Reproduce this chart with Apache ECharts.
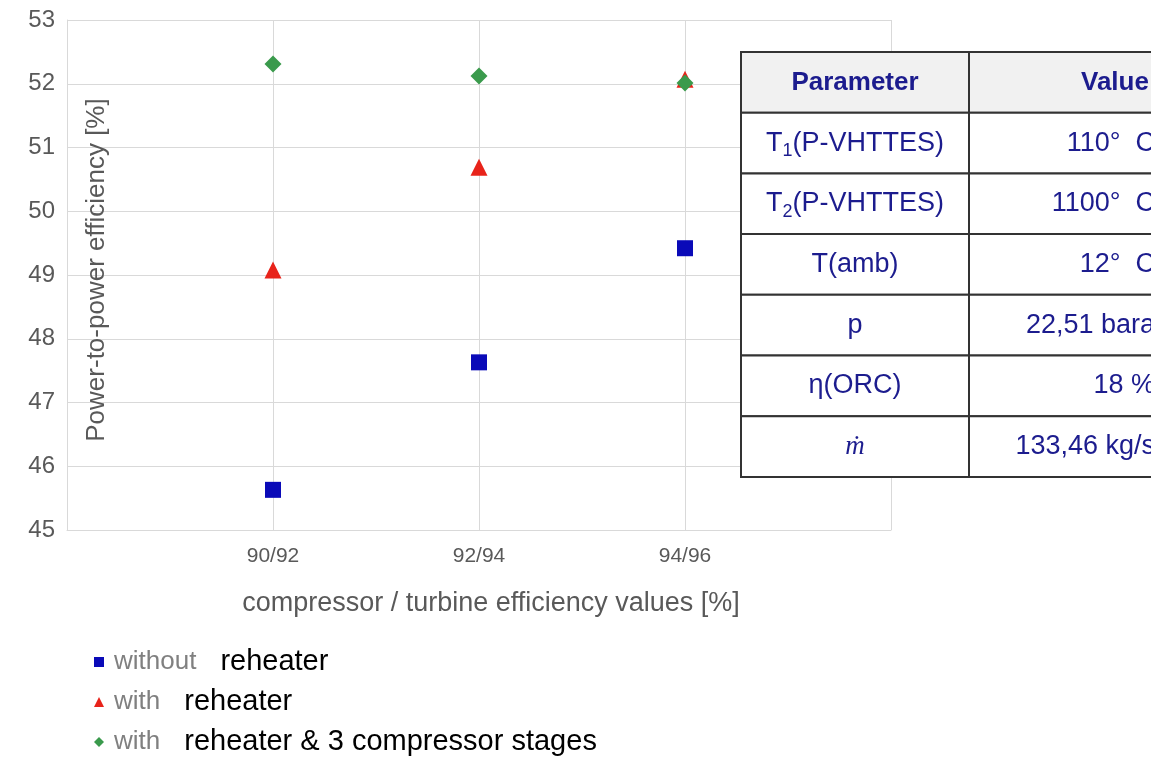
<!DOCTYPE html>
<html>
<head>
<meta charset="utf-8">
<script src="https://cdn.jsdelivr.net/npm/echarts@6/dist/echarts.min.js"></script>
<style>
  html, body { margin: 0; padding: 0; background: #fff; }
  #chart { width: 1151px; height: 762px; }
</style>
</head>
<body>
<div id="chart"></div>
<script>
// categories on the x axis
const categories = ["90/92", "92/94", "94/96"];

// power-to-power efficiency [%]
const withoutReheater = [45.63, 47.63, 49.42];
const withReheater = [49.08, 50.69, 52.07];
const withReheater3Stages = [52.31, 52.12, 52.01];

// parameter table
const tableParams = ["T{sub|1}(P-VHTTES)", "T{sub|2}(P-VHTTES)", "T(amb)", "p", "η(ORC)", "ṁ"];
const tableValues = ["110°  C", "1100°  C", "12°  C", "22,51 bara", "18 %", "133,46 kg/s"];

const font = "Liberation Sans";
const navy = "#1c1c8e";
const gray = "#595959";

function toPoints(arr) {
  return arr.map((v, i) => [i + 1, v]);
}

// build the table from graphic elements
function buildTable() {
  const left = 741;
  const top = 52;
  const rowH = 60.7;
  const col1 = 228;
  const col2 = 260;
  const els = [];
  const nRows = tableParams.length + 1;
  for (let r = 0; r < nRows; r++) {
    const y = top + r * rowH;
    els.push({
      type: "rect",
      z: 100,
      shape: { x: left, y: y, width: col1, height: rowH },
      style: { fill: r === 0 ? "#f1f1f1" : "#fff", stroke: "#333", lineWidth: 2 },
    });
    els.push({
      type: "rect",
      z: 100,
      shape: { x: left + col1, y: y, width: col2, height: rowH },
      style: { fill: r === 0 ? "#f1f1f1" : "#fff", stroke: "#333", lineWidth: 2 },
    });
    if (r === 0) {
      els.push({
        type: "text",
        z: 101,
        style: {
          text: "Parameter", x: left + col1 / 2, y: y + rowH / 2,
          align: "center", verticalAlign: "middle",
          fontSize: 26, fontWeight: "bold", fontFamily: font, fill: navy,
        },
      });
      els.push({
        type: "text",
        z: 101,
        style: {
          text: "Value", x: left + col1 + 112, y: y + rowH / 2,
          align: "left", verticalAlign: "middle",
          fontSize: 26, fontWeight: "bold", fontFamily: font, fill: navy,
        },
      });
      continue;
    }
    const p = tableParams[r - 1];
    const isMdot = p === "ṁ";
    els.push({
      type: "text",
      z: 101,
      style: {
        text: p, x: left + col1 / 2, y: y + rowH / 2,
        align: "center", verticalAlign: "middle",
        fontSize: 27,
        fontStyle: isMdot ? "italic" : "normal",
        fontFamily: isMdot ? "Liberation Serif" : font,
        fill: navy,
        rich: {
          sub: { fontSize: 18, fontFamily: font, fill: navy, verticalAlign: "bottom", padding: [16, 0, 0, 0] },
        },
      },
    });
    els.push({
      type: "text",
      z: 101,
      style: {
        text: tableValues[r - 1], x: 1155, y: y + rowH / 2,
        align: "right", verticalAlign: "middle",
        fontSize: 27, fontFamily: font, fill: navy,
      },
    });
  }
  // y axis title, sits inside the plot area
  els.push({
    type: "text",
    z: 50,
    x: 97,
    y: 270,
    rotation: Math.PI / 2,
    style: {
      text: "Power-to-power efficiency [%]",
      align: "center", verticalAlign: "middle",
      fontSize: 26, fontFamily: font, fill: gray,
    },
  });
  return els;
}

const chart = echarts.init(document.getElementById("chart"));
chart.setOption({
  animation: false,
  backgroundColor: "#fff",
  textStyle: { fontFamily: font },
  grid: { left: 67, right: 260, top: 20, bottom: 232, containLabel: false, outerBoundsMode: "none" },
  legend: {
    orient: "vertical",
    left: 94,
    top: 647,
    padding: 0,
    itemWidth: 10,
    itemHeight: 10,
    itemGap: 10,
    formatter: (name) => {
      const first = name.split(" ")[0];
      const rest = name.slice(first.length + 1);
      return "{a|" + first + "}{b|" + rest + "}";
    },
    textStyle: {
      fontFamily: font,
      rich: {
        a: { fontSize: 26, color: "#808080", height: 30, lineHeight: 30, padding: [0, 0, 0, 5], fontFamily: font },
        b: { fontSize: 29, color: "#000", height: 30, lineHeight: 30, padding: [0, 0, 0, 24], fontFamily: font },
      },
    },
  },
  xAxis: {
    type: "value",
    min: 0,
    max: 4,
    interval: 1,
    name: "compressor / turbine efficiency values [%]",
    nameLocation: "middle",
    nameGap: 60,
    nameTextStyle: { fontSize: 27, color: gray, fontFamily: font, padding: [0, 0, 0, 24] },
    axisLine: { show: true, lineStyle: { color: "#d9d9d9" } },
    axisTick: { show: false },
    axisLabel: {
      margin: 16,
      fontSize: 21,
      color: gray,
      fontFamily: font,
      formatter: (v) => categories[v - 1] || "",
    },
    splitLine: { show: true, lineStyle: { color: "#d9d9d9" } },
  },
  yAxis: {
    type: "value",
    min: 45,
    max: 53,
    interval: 1,
    axisLine: { show: true, lineStyle: { color: "#d9d9d9" } },
    axisTick: { show: false },
    axisLabel: { margin: 12, fontSize: 24, color: gray, fontFamily: font },
    splitLine: { show: true, lineStyle: { color: "#d9d9d9" } },
  },
  series: [
    {
      name: "without reheater",
      type: "scatter",
      symbol: "rect",
      symbolSize: 16,
      itemStyle: { color: "#0a0ab8", opacity: 1 },
      data: toPoints(withoutReheater),
    },
    {
      name: "with reheater",
      type: "scatter",
      symbol: "triangle",
      symbolSize: 17,
      itemStyle: { color: "#e8231a", opacity: 1 },
      data: toPoints(withReheater),
    },
    {
      name: "with reheater & 3 compressor stages",
      type: "scatter",
      symbol: "diamond",
      symbolSize: 17,
      itemStyle: { color: "#3a9a4c", opacity: 1 },
      data: toPoints(withReheater3Stages),
    },
  ],
  graphic: buildTable(),
});
</script>
</body>
</html>
